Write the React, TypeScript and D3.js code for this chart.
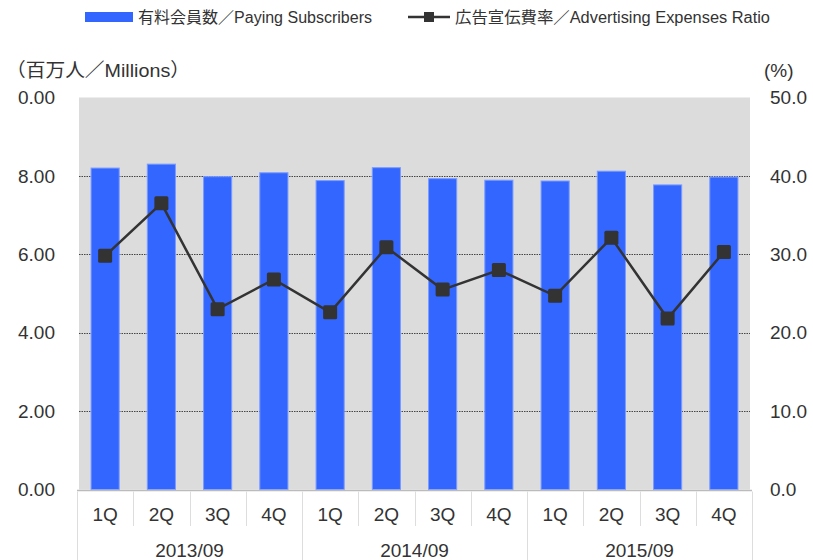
import React from "react";
import { scaleBand, scaleLinear, line as d3line } from "d3";

const quarters = ["1Q", "2Q", "3Q", "4Q", "1Q", "2Q", "3Q", "4Q", "1Q", "2Q", "3Q", "4Q"];
const years = ["2013/09", "2014/09", "2015/09"];
const subscribers = [8.2, 8.3, 7.98, 8.08, 7.88, 8.21, 7.93, 7.89, 7.87, 8.12, 7.77, 7.97];
const adRatio = [29.8, 36.5, 23.0, 26.8, 22.6, 30.9, 25.5, 28.0, 24.7, 32.1, 21.8, 30.3];
const leftTicks = [10, 8, 6, 4, 2, 0];
const leftTickLabels = ["0.00", "8.00", "6.00", "4.00", "2.00", "0.00"];
const rightTicks = [50, 40, 30, 20, 10, 0];
const rightTickLabels = ["50.0", "40.0", "30.0", "20.0", "10.0", "0.0"];

const font = "'Liberation Sans', Arial, 'Noto Sans CJK JP', sans-serif";

export default function App() {
  const W = 813;
  const H = 560;
  const x0 = 77;
  const x1 = 752;
  const yTop = 97.5;
  const yBot = 489.5;

  const x = scaleBand<number>()
    .domain(quarters.map((_, i) => i))
    .range([x0, x1])
    .padding(0);
  const yL = scaleLinear().domain([0, 10]).range([yBot, yTop]);
  const yR = scaleLinear().domain([0, 50]).range([yBot, yTop]);
  const bw = x.bandwidth();
  const barW = bw / 2;

  const line = d3line<number>()
    .x((_, i) => (x(i) ?? 0) + bw / 2)
    .y((d) => yR(d));

  return (
    <svg
      width={W}
      height={H}
      style={{ position: "absolute", left: 0, top: 0, display: "block", background: "#fff" }}
      fontFamily={font}
    >
      {/* legend */}
      <rect x={85} y={12} width={48} height={10} fill="#3366FF" />
      <text x={138} y={23} fontSize={16} fill="#333" textLength={234} lengthAdjust="spacingAndGlyphs">有料会員数／Paying Subscribers</text>
      <line x1={408} x2={450} y1={17} y2={17} stroke="#333" strokeWidth={2.5} />
      <rect x={424} y={12} width={10} height={10} fill="#333" />
      <text x={455} y={23} fontSize={16} fill="#333" textLength={315} lengthAdjust="spacingAndGlyphs">広告宣伝費率／Advertising Expenses Ratio</text>

      {/* axis titles */}
      <text x={6} y={77} fontSize={19} fill="#333" textLength={184} lengthAdjust="spacingAndGlyphs">（百万人／Millions）</text>
      <text x={764} y={77} fontSize={19} fill="#333">(%)</text>

      {/* plot background */}
      <rect x={x0 + 2} y={yTop} width={x1 - x0 - 4} height={yBot - yTop} fill="#DCDCDC" />

      {/* grid */}
      {leftTicks
        .filter((t) => t !== 0 && t !== 10)
        .map((t) => (
          <line
            key={t}
            x1={x0 + 2}
            x2={x1 - 2}
            y1={Math.round(yL(t)) + 0.5}
            y2={Math.round(yL(t)) + 0.5}
            stroke="#444"
            strokeWidth={1}
            strokeDasharray="1.5,1"
          />
        ))}

      {/* bars */}
      {subscribers.map((v, i) => (
        <rect
          key={i}
          x={(x(i) ?? 0) + (bw - barW) / 2}
          y={yL(v)}
          width={barW}
          height={yBot - yL(v)}
          fill="#3366FF"
          stroke="#7A9CFF"
          strokeWidth={1}
        />
      ))}

      {/* line */}
      <path d={line(adRatio) ?? undefined} fill="none" stroke="#333" strokeWidth={2.5} />
      {adRatio.map((v, i) => (
        <rect
          key={i}
          x={(x(i) ?? 0) + bw / 2 - 7}
          y={yR(v) - 7}
          width={14}
          height={14}
          rx={1.5}
          fill="#333"
        />
      ))}

      {/* left ticks */}
      {leftTicks.map((t, i) => (
        <text key={i} x={55} y={yL(t)} dy="0.35em" textAnchor="end" fontSize={19} fill="#333">
          {leftTickLabels[i]}
        </text>
      ))}
      {/* right ticks */}
      {rightTicks.map((t, i) => (
        <text key={i} x={770} y={yR(t)} dy="0.35em" fontSize={19} fill="#333">
          {rightTickLabels[i]}
        </text>
      ))}

      {/* x axis */}
      <line x1={x0} x2={x1} y1={yBot + 1} y2={yBot + 1} stroke="#BBB" strokeWidth={1.5} />
      {quarters.map((q, i) => (
        <g key={i}>
          {i % 4 !== 0 && (
            <line
              x1={Math.round(x(i) ?? 0) + 0.5}
              x2={Math.round(x(i) ?? 0) + 0.5}
              y1={yBot + 2}
              y2={526}
              stroke="#DDD"
            />
          )}
          <text x={(x(i) ?? 0) + bw / 2} y={514} dy="0.35em" textAnchor="middle" fontSize={19} fill="#333">
            {q}
          </text>
        </g>
      ))}
      {[0, 4, 8, 12].map((k) => {
        const xx = k === 12 ? x1 : x(k) ?? 0;
        return (
          <line key={k} x1={Math.round(xx) + 0.5} x2={Math.round(xx) + 0.5} y1={yBot + 2} y2={H} stroke="#DDD" />
        );
      })}
      {years.map((yr, j) => (
        <text
          key={yr}
          x={(x(j * 4) ?? 0) + bw * 2}
          y={550}
          dy="0.35em"
          textAnchor="middle"
          fontSize={19}
          fill="#333"
        >
          {yr}
        </text>
      ))}
    </svg>
  );
}
